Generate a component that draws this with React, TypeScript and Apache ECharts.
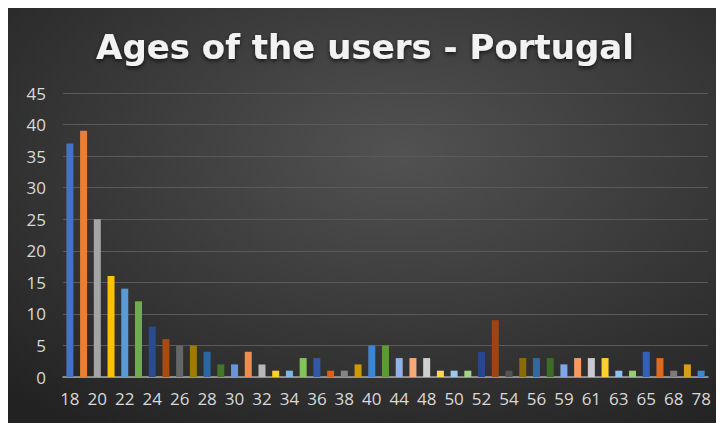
import React, { useEffect, useRef } from "react";
import * as echarts from "echarts";

const ages = [
  "18", "19", "20", "21", "22", "23", "24", "25", "26", "27", "28", "29", "30", "31", "32", "33",
  "34", "35", "36", "37", "38", "39", "40", "42", "44", "46", "48", "49", "50", "51", "52", "53",
  "54", "55", "56", "57", "59", "60", "61", "62", "63", "64", "65", "66", "68", "70", "78",
];

const users = [
  37, 39, 25, 16, 14, 12, 8, 6, 5, 5, 4, 2, 2, 4, 2, 1,
  1, 3, 3, 1, 1, 2, 5, 5, 3, 3, 3, 1, 1, 1, 4, 9,
  1, 3, 3, 3, 2, 3, 3, 3, 1, 1, 4, 3, 1, 2, 1,
];

const barColors = [
  "#4472C4", "#ED7D31", "#A5A5A5", "#FFC000", "#5B9BD5", "#70AD47",
  "#2B4C8C", "#A84B12", "#666666", "#A07A06", "#2A67A3", "#45742C",
  "#6C92D8", "#F28C4A", "#B9B9B9", "#FFD21F", "#7DB5E8", "#84C45A",
  "#3059A6", "#D8601A", "#858585", "#CC9A06", "#3D86D4", "#5A9A3A",
  "#93B1E6", "#F7A97A", "#CFCFCF", "#FFD84D", "#9CCAEE", "#A4D38A",
  "#27488A", "#9E4512", "#545454", "#8A6B0C", "#2F69A6", "#3E6B28",
  "#7FA6E6", "#F59A66", "#C9C9CF", "#FFCF2E", "#8EC2EE", "#94CC78",
  "#3461B8", "#DE6A22", "#7B7B7B", "#D4A017", "#3C87D0",
];

const yTicks = { min: 0, max: 45, interval: 5 };

export default function App() {
  const ref = useRef<HTMLDivElement>(null);

  useEffect(() => {
    if (!ref.current) return;
    const chart = echarts.init(ref.current, null, { renderer: "svg" });
    chart.setOption({
      animation: false,
      backgroundColor: {
        type: "radial",
        x: 0.55,
        y: 0.35,
        r: 0.8,
        colorStops: [
          { offset: 0, color: "#525252" },
          { offset: 1, color: "#222222" },
        ],
      },
      title: {
        text: "Ages of the users - Portugal",
        left: "center",
        top: 17,
        textStyle: {
          color: "#f2f2f2",
          fontFamily: "DejaVu Sans",
          fontWeight: "bold",
          fontSize: 34,
          textShadowColor: "rgba(0,0,0,0.7)",
          textShadowBlur: 4,
          textShadowOffsetY: 2,
        },
      },
      grid: { left: 55, right: 14, top: 85, bottom: 46, containLabel: false },
      xAxis: {
        type: "category",
        data: ages,
        axisTick: { show: false },
        axisLine: { lineStyle: { color: "#a6a6a6", width: 1.5 } },
        axisLabel: {
          interval: 1,
          color: "#d9d9d9",
          fontFamily: "Open Sans",
          fontSize: 17,
          margin: 13,
        },
        splitLine: { show: false },
      },
      yAxis: {
        type: "value",
        min: yTicks.min,
        max: yTicks.max,
        interval: yTicks.interval,
        axisLine: { show: false },
        axisTick: { show: false },
        axisLabel: {
          color: "#d9d9d9",
          fontFamily: "Open Sans",
          fontSize: 17,
          margin: 17,
        },
        splitLine: { lineStyle: { color: "#5a5a5a", width: 1.2 } },
      },
      series: [
        {
          type: "bar",
          data: users.map((v, i) => ({
            value: v,
            itemStyle: { color: barColors[i % barColors.length] },
          })),
          barWidth: 7,
        },
      ],
    });
    return () => chart.dispose();
  }, []);

  return <div ref={ref} style={{ width: 714, height: 415 }} />;
}
